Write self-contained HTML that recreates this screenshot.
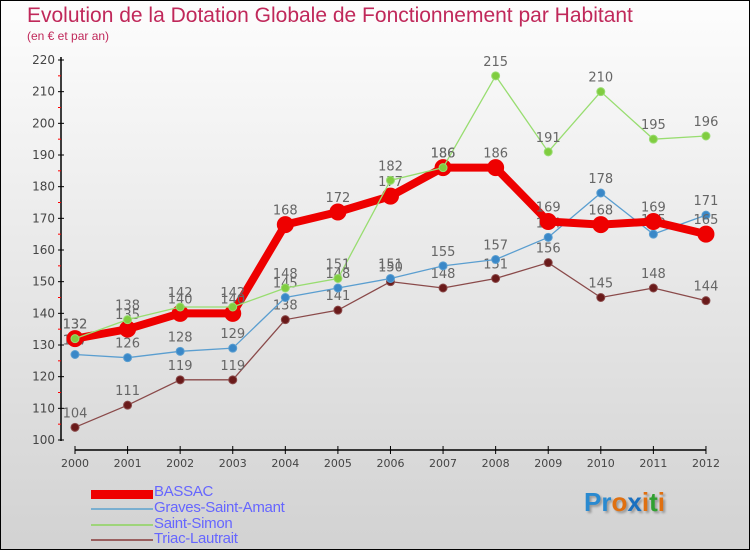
<!DOCTYPE html>
<html><head><meta charset="utf-8"><style>
body{margin:0;width:750px;height:550px;overflow:hidden}
#wrap{position:relative;width:748px;height:548px;border:1px solid #000;background:linear-gradient(#fdfdfd,#d2d2d2);font-family:"Liberation Sans","DejaVu Sans",sans-serif}
.t{position:absolute;color:#c0285a}
.leg{position:absolute;left:153px;font-size:15px;color:#6666ff;letter-spacing:-0.3px}
.sw{position:absolute;left:90px;width:62px}
</style></head><body>
<div id="wrap">
<div class="t" style="left:26px;top:3px;font-size:21px">Evolution de la Dotation Globale de Fonctionnement par Habitant</div>
<div class="t" style="left:26px;top:28px;font-size:12px">(en € et par an)</div>
<svg id="svg" width="750" height="550" style="position:absolute;left:-1px;top:-1px;font-family:'DejaVu Sans',sans-serif"></svg>
<div class="sw" style="top:489px;height:9px;background:#e00"></div>
<div class="leg" style="top:482px">BASSAC</div>
<div class="sw" style="top:507px;height:2px;background:#7aafd0"></div>
<div class="leg" style="top:498px">Graves-Saint-Amant</div>
<div class="sw" style="top:523px;height:2px;background:#9ed47a"></div>
<div class="leg" style="top:514px">Saint-Simon</div>
<div class="sw" style="top:538px;height:2px;background:#9a6060"></div>
<div class="leg" style="top:529px">Triac-Lautrait</div>
<div style="position:absolute;left:583px;top:486px;font-size:26px;font-weight:bold;text-shadow:2px 2px 2px #999"><span style="color:#2a8ad0">Pr</span><span style="color:#e07010">o</span><span style="color:#1a70c0">x</span><span style="color:#e07010">i</span><span style="color:#30a030">t</span><span style="color:#e07010">i</span></div>
</div>
<script>
const years=[2000,2001,2002,2003,2004,2005,2006,2007,2008,2009,2010,2011,2012];
const yTicks=[100,110,120,130,140,150,160,170,180,190,200,210,220];
const bassac=[132,135,140,140,168,172,177,186,186,169,168,169,165];
const graves=[127,126,128,129,145,148,151,155,157,164,178,165,171];
const simon=[132,138,142,142,148,151,182,186,215,191,210,195,196];
const triac=[104,111,119,119,138,141,150,148,151,156,145,148,144];
const svg=document.getElementById('svg');const NS='http://www.w3.org/2000/svg';
const X=i=>75+i*52.58, Y=v=>440-(v-100)*380/120;
function mk(t,a,p){const e=document.createElementNS(NS,t);for(const k in a)e.setAttribute(k,a[k]);(p||svg).appendChild(e);return e;}
let ax=mk('line',{x1:61,y1:57,x2:61,y2:441,stroke:'#000','stroke-width':1.5});


let bx=mk('line',{x1:75,y1:450,x2:706,y2:450,stroke:'#000','stroke-width':1.5});


yTicks.forEach(v=>{mk('line',{x1:58,y1:Y(v),x2:64,y2:Y(v),stroke:'#000'});
 if(v<220)mk('line',{x1:58,y1:Y(v+5),x2:61,y2:Y(v+5),stroke:'#f00'});
 const t=mk('text',{x:55,y:Y(v)+4,'text-anchor':'end','font-size':12,fill:'#444'});t.textContent=v;
 
 });
years.forEach((y,i)=>{mk('line',{x1:X(i),y1:446,x2:X(i),y2:454,stroke:'#000'});
 const t=mk('text',{x:X(i),y:467,'text-anchor':'middle','font-size':11,fill:'#444'});t.textContent=y;
 
 });
function series(d,col,w,r,fill,name){const g=mk('g',{});
 
 
 mk('polyline',{points:d.map((v,i)=>X(i)+','+Y(v)).join(' '),fill:'none',stroke:col,'stroke-width':w},g);
 d.forEach((v,i)=>{mk('circle',{cx:X(i),cy:Y(v),r:r,fill:fill,stroke:col,'stroke-width':1},g);
  const t=mk('text',{x:X(i),y:Y(v)-10,'text-anchor':'middle','font-size':13,fill:'#666'},g);t.textContent=v;});}
series(triac,'#8a4a4a',1.3,4,'#6a1a1a','series-triac');
series(graves,'#5a9ed0',1.3,4,'#3a88c8','series-graves');
series(bassac,'#ee0000',8,8,'#ee0000','series-bassac');
series(simon,'#98dd70',1.3,4,'#80cc40','series-saint-simon');
</script>
</body></html>
